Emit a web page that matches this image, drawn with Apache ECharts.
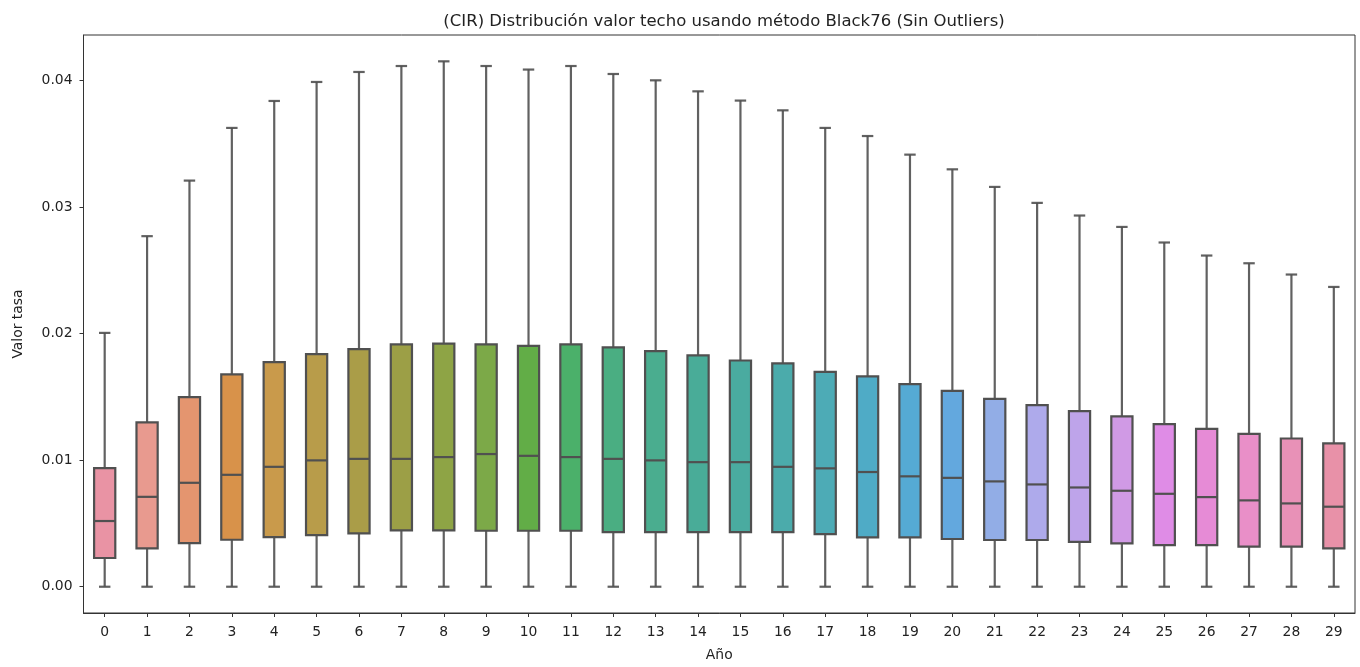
<!DOCTYPE html>
<html>
<head>
<meta charset="utf-8">
<script src="https://cdn.jsdelivr.net/npm/echarts@6/dist/echarts.min.js"></script>
<style>
html,body{margin:0;padding:0;background:#fff;}
#chart{width:1360px;height:667px;}
</style>
</head>
<body>
<div id="chart"></div>
<script>
const titleText = '(CIR) Distribución valor techo usando método Black76 (Sin Outliers)';
const categories = ['0','1','2','3','4','5','6','7','8','9','10','11','12','13','14','15','16','17','18','19','20','21','22','23','24','25','26','27','28','29'];
const whiskerLow = [0,0,0,0,0,0,0,0,0,0,0,0,0,0,0,0,0,0,0,0,0,0,0,0,0,0,0,0,0,0];
const q1 = [0.00227,0.00303,0.00345,0.00371,0.00392,0.00408,0.00421,0.00445,0.00445,0.00442,0.00442,0.00442,0.00432,0.00432,0.00432,0.00432,0.00432,0.00416,0.0039,0.0039,0.00377,0.00369,0.00369,0.00355,0.00343,0.00329,0.00329,0.00316,0.00316,0.00303];
const median = [0.00519,0.0071,0.00821,0.00884,0.00947,0.00998,0.0101,0.0101,0.01024,0.01048,0.01034,0.01024,0.0101,0.00998,0.00984,0.00984,0.00947,0.00935,0.00906,0.00872,0.0086,0.00832,0.00808,0.00784,0.00758,0.00734,0.00708,0.00682,0.00658,0.00632];
const q3 = [0.00937,0.01298,0.01498,0.01677,0.01774,0.01837,0.01877,0.01914,0.01921,0.01914,0.01903,0.01914,0.0189,0.01861,0.01827,0.01787,0.01764,0.01697,0.01661,0.016,0.01547,0.01484,0.01435,0.01387,0.01345,0.01284,0.01247,0.01208,0.01171,0.01132];
const whiskerHigh = [0.02005,0.02769,0.03208,0.03624,0.03837,0.03987,0.04066,0.04113,0.0415,0.04113,0.04085,0.04113,0.0405,0.04,0.03913,0.0384,0.03763,0.03624,0.0356,0.03413,0.03297,0.03158,0.03032,0.02932,0.02842,0.02719,0.02616,0.02555,0.02466,0.02368];
const boxColors = ['#e993a4','#e89a8f','#e4956f','#d8924a','#c99a4b','#b89c4a','#aa9d48','#9c9f46','#8ea445','#7ca948','#62ad47','#4bb06a','#4aae82','#4aad8f','#49ac98','#4aaba0','#4babab','#4dabb6','#4fabc6','#55aad4','#63a8de','#92ade6','#aeaaeb','#bea4ea','#d09ae5','#df8ce6','#e68bd6','#e98fc8','#e891b7','#e891a8'];
const yTicks = [0, 0.01, 0.02, 0.03, 0.04];
const xName = 'Año';
const yName = 'Valor tasa';

const FONT = 'DejaVu Sans';
const LINE = '#505050';

const chart = echarts.init(document.getElementById('chart'), null, {renderer: 'canvas'});

const data = categories.map((c, i) => [i, whiskerLow[i], q1[i], median[i], q3[i], whiskerHigh[i]]);

function renderItem(params, api) {
  const idx = api.value(0);
  const band = api.size([1, 0])[0];
  const boxW = band * 0.5;
  const capW = band * 0.27;
  const pLow = api.coord([idx, api.value(1)]);
  const pQ1 = api.coord([idx, api.value(2)]);
  const pMed = api.coord([idx, api.value(3)]);
  const pQ3 = api.coord([idx, api.value(4)]);
  const pHigh = api.coord([idx, api.value(5)]);
  const cx = pQ1[0];
  const lineStyle = {stroke: LINE, lineWidth: 2.2, fill: null, opacity: 0.9};
  return {
    type: 'group',
    children: [
      {type: 'line', shape: {x1: cx, y1: pQ3[1], x2: cx, y2: pHigh[1]}, style: lineStyle},
      {type: 'line', shape: {x1: cx, y1: pLow[1], x2: cx, y2: pQ1[1]}, style: lineStyle},
      {type: 'line', shape: {x1: cx - capW / 2, y1: pHigh[1], x2: cx + capW / 2, y2: pHigh[1]}, style: lineStyle},
      {type: 'line', shape: {x1: cx - capW / 2, y1: pLow[1], x2: cx + capW / 2, y2: pLow[1]}, style: lineStyle},
      {type: 'rect', shape: {x: cx - boxW / 2, y: pQ3[1], width: boxW, height: pQ1[1] - pQ3[1]},
        style: {fill: boxColors[idx], stroke: LINE, lineWidth: 2.2}},
      {type: 'line', shape: {x1: cx - boxW / 2, y1: pMed[1], x2: cx + boxW / 2, y2: pMed[1]}, style: {stroke: LINE, lineWidth: 2.2}}
    ]
  };
}

chart.setOption({
  animation: false,
  backgroundColor: '#ffffff',
  title: {
    text: titleText,
    left: 719,
    top: 8,
    textAlign: 'center',
    textStyle: {fontFamily: FONT, fontSize: 16.5, fontWeight: 'normal', color: '#222'}
  },
  grid: {
    left: 83.5, right: 5, top: 35, bottom: 54,
    show: true, borderColor: '#333', borderWidth: 1, backgroundColor: 'transparent'
  },
  xAxis: {
    type: 'category',
    data: categories,
    boundaryGap: true,
    name: xName,
    nameLocation: 'middle',
    nameGap: 35,
    nameTextStyle: {fontFamily: FONT, fontSize: 13.9, color: '#222'},
    axisLine: {show: true, onZero: false, lineStyle: {color: '#333', width: 1}},
    axisTick: {show: true, alignWithLabel: true, length: 4, lineStyle: {color: '#333', width: 1}},
    axisLabel: {fontFamily: FONT, fontSize: 13.9, color: '#222', margin: 12, interval: 0},
    splitLine: {show: false}
  },
  yAxis: {
    type: 'value',
    min: -0.002075,
    max: 0.04358,
    name: yName,
    nameLocation: 'middle',
    nameGap: 58,
    nameRotate: 90,
    nameTextStyle: {fontFamily: FONT, fontSize: 13.9, color: '#222'},
    axisLine: {show: true, onZero: false, lineStyle: {color: '#333', width: 1}},
    axisTick: {show: true, length: 4, lineStyle: {color: '#333', width: 1}, customValues: yTicks},
    axisLabel: {fontFamily: FONT, fontSize: 13.9, color: '#222', margin: 11,
      customValues: yTicks, formatter: v => Number(v).toFixed(2)},
    splitLine: {show: false}
  },
  series: [{
    type: 'custom',
    renderItem: renderItem,
    encode: {x: 0, y: [1, 2, 3, 4, 5]},
    data: data,
    clip: false
  }]
});
</script>
</body>
</html>
